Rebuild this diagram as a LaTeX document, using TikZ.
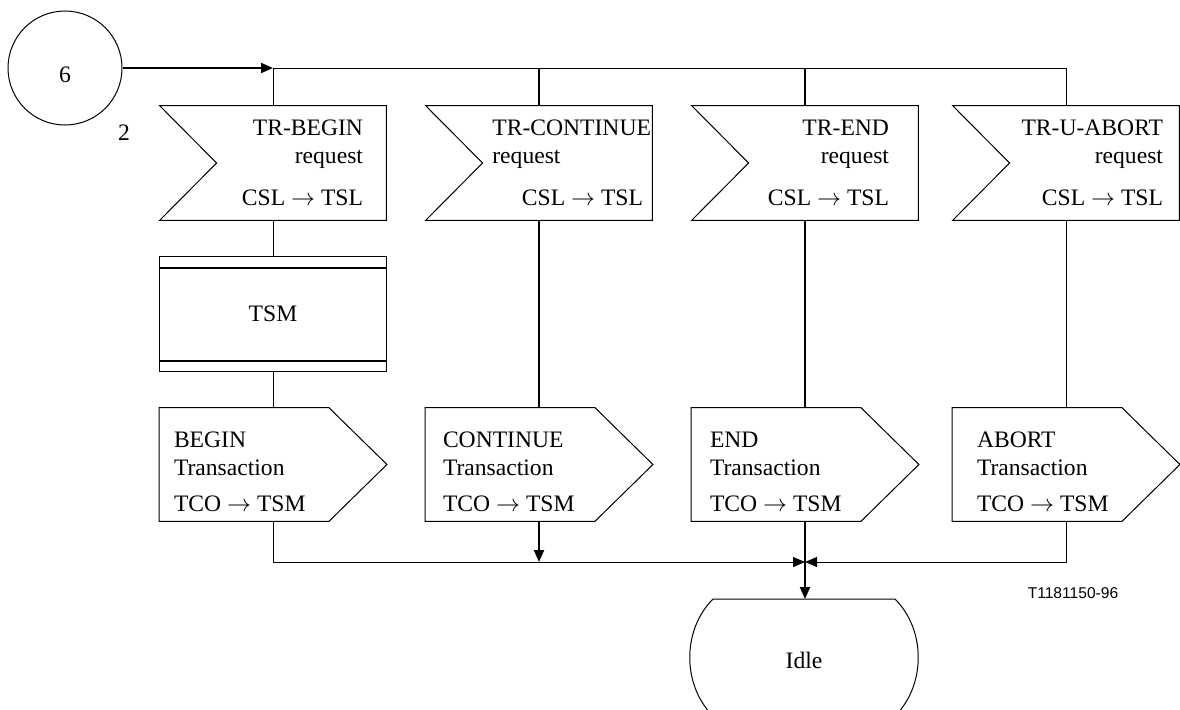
\documentclass[tikz,border=0pt]{standalone}
\usepackage{fontspec}
\setmainfont{Liberation Serif}
\newfontfamily\figfont{Liberation Sans}
\usetikzlibrary{positioning,arrows.meta}

\begin{document}
\begin{tikzpicture}[x=0.5pt, y=-0.5pt,
                    every node/.style = {inner sep=0pt,
                      font=\fontsize{11.8}{13.75}\selectfont},
                    sig/.style = {minimum width=113pt, minimum height=57pt},
                    outsig/.style = {minimum width=113.5pt, minimum height=56.5pt},
                    txt/.style = {align=right},
                    wire/.style = {line width=0.5pt},
                    flowline/.style = {line width=1pt},
                    arr/.style = {-{Triangle[length=6pt,width=5pt]}}]
  \useasboundingbox (0,0) rectangle (1180,709);

  % connector and bus
  \node[draw, circle, wire, minimum size=57pt, text height=14pt, text depth=0pt]
    (conn6) at (65,68) {6};
  \node (conn2) at (124,133) {2};
  \coordinate (j1) at (273,68);

  % input signals
  \node[sig] (in1) at (273,163) {};
  \node[sig] (in2) at (539,163) {};
  \node[sig] (in3) at (805,163) {};
  \node[sig] (in4) at (1066,163) {};
  \foreach \n in {in1,in2,in3,in4}
    \draw[wire] (\n.north west) -- (\n.north east) -- (\n.south east)
      -- (\n.south west) -- ([xshift=28.5pt]\n.west) -- cycle;

  \node[txt, anchor=east] (in1t) at ([xshift=-11.5pt]in1.east)
    {TR-BEGIN\\request\\[7.25pt]CSL $\rightarrow$ TSL};
  \node[txt, anchor=east] (in2t) at ([xshift=-0.5pt]in2.east)
    {TR-CONTINUE\\\rlap{request}\hphantom{TR-CONTINUE}\\[7.25pt]CSL $\rightarrow$ TSL\kern4pt};
  \node[txt, anchor=east] (in3t) at ([xshift=-14.5pt]in3.east)
    {TR-END\\request\\[7.25pt]CSL $\rightarrow$ TSL};
  \node[txt, anchor=east] (in4t) at ([xshift=-8pt]in4.east)
    {TR-U-ABORT\\request\\[7.25pt]CSL $\rightarrow$ TSL};

  % task
  \node[draw, wire, minimum width=113.5pt, minimum height=57.5pt] (tsm) at (273,313.5) {TSM};
  \draw[flowline] ([yshift=-6pt]tsm.north west) -- ([yshift=-6pt]tsm.north east);
  \draw[flowline] ([yshift=5.5pt]tsm.south west) -- ([yshift=5.5pt]tsm.south east);

  % output signals
  \node[outsig] (out1) at (273,464.5) {};
  \node[outsig] (out2) at (539,464.5) {};
  \node[outsig] (out3) at (805,464.5) {};
  \node[outsig] (out4) at (1066,464.5) {};
  \foreach \n in {out1,out2,out3,out4}
    \draw[wire] (\n.north west) -- ([xshift=-29pt]\n.north east) -- (\n.east)
      -- ([xshift=-29pt]\n.south east) -- (\n.south west) -- cycle;

  \node[anchor=west, align=left] (out1t) at ([xshift=7.25pt,yshift=-3.75pt]out1.west)
    {BEGIN\\Transaction\\[4.25pt]TCO $\rightarrow$ TSM};
  \node[anchor=west, align=left] (out2t) at ([xshift=8.75pt,yshift=-3.75pt]out2.west)
    {CONTINUE\\Transaction\\[4.25pt]TCO $\rightarrow$ TSM};
  \node[anchor=west, align=left] (out3t) at ([xshift=9.25pt,yshift=-3.75pt]out3.west)
    {END\\Transaction\\[4.25pt]TCO $\rightarrow$ TSM};
  \node[anchor=west, align=left] (out4t) at ([xshift=12.25pt,yshift=-3.75pt]out4.west)
    {ABORT\\Transaction\\[4.25pt]TCO $\rightarrow$ TSM};

  % next state
  \node (idle) at (804,660) {Idle};
  \draw[wire] (713,599) -- (895,599) .. controls (926,630) and (926,685) .. (895,716)
    -- (713,716) .. controls (682,685) and (682,630) .. (713,599);
  \coordinate (merge) at (805,562);
  \coordinate (idletop) at (805,599);

  \node[font=\figfont\fontsize{7.8}{9}\selectfont] (figid) at (1073,593) {T1181150-96};

  % connections
  \draw[flowline, arr] (conn6) -- (j1);
  \draw[wire] (j1) -- (in4.north |- j1) -- (in4.north);
  \draw[wire] (j1) -- (in1.north);
  \draw[flowline] (in2.north |- j1) -- (in2.north);
  \draw[flowline] (in3.north |- j1) -- (in3.north);

  \draw[wire] (in1.south) -- (tsm.north);
  \draw[wire] (tsm.south) -- (out1.north);
  \draw[flowline] (in2.south) -- (out2.north);
  \draw[flowline] (in3.south) -- (out3.north);
  \draw[wire] (in4.south) -- (out4.north);

  \draw[wire, arr] (out1.south) |- (merge);
  \draw[wire, arr] (out4.south) |- (merge);
  \draw[flowline, arr] (out2.south) -- (out2.south |- merge);
  \draw[flowline, arr] (out3.south) -- (idletop);
\end{tikzpicture}
\end{document}
